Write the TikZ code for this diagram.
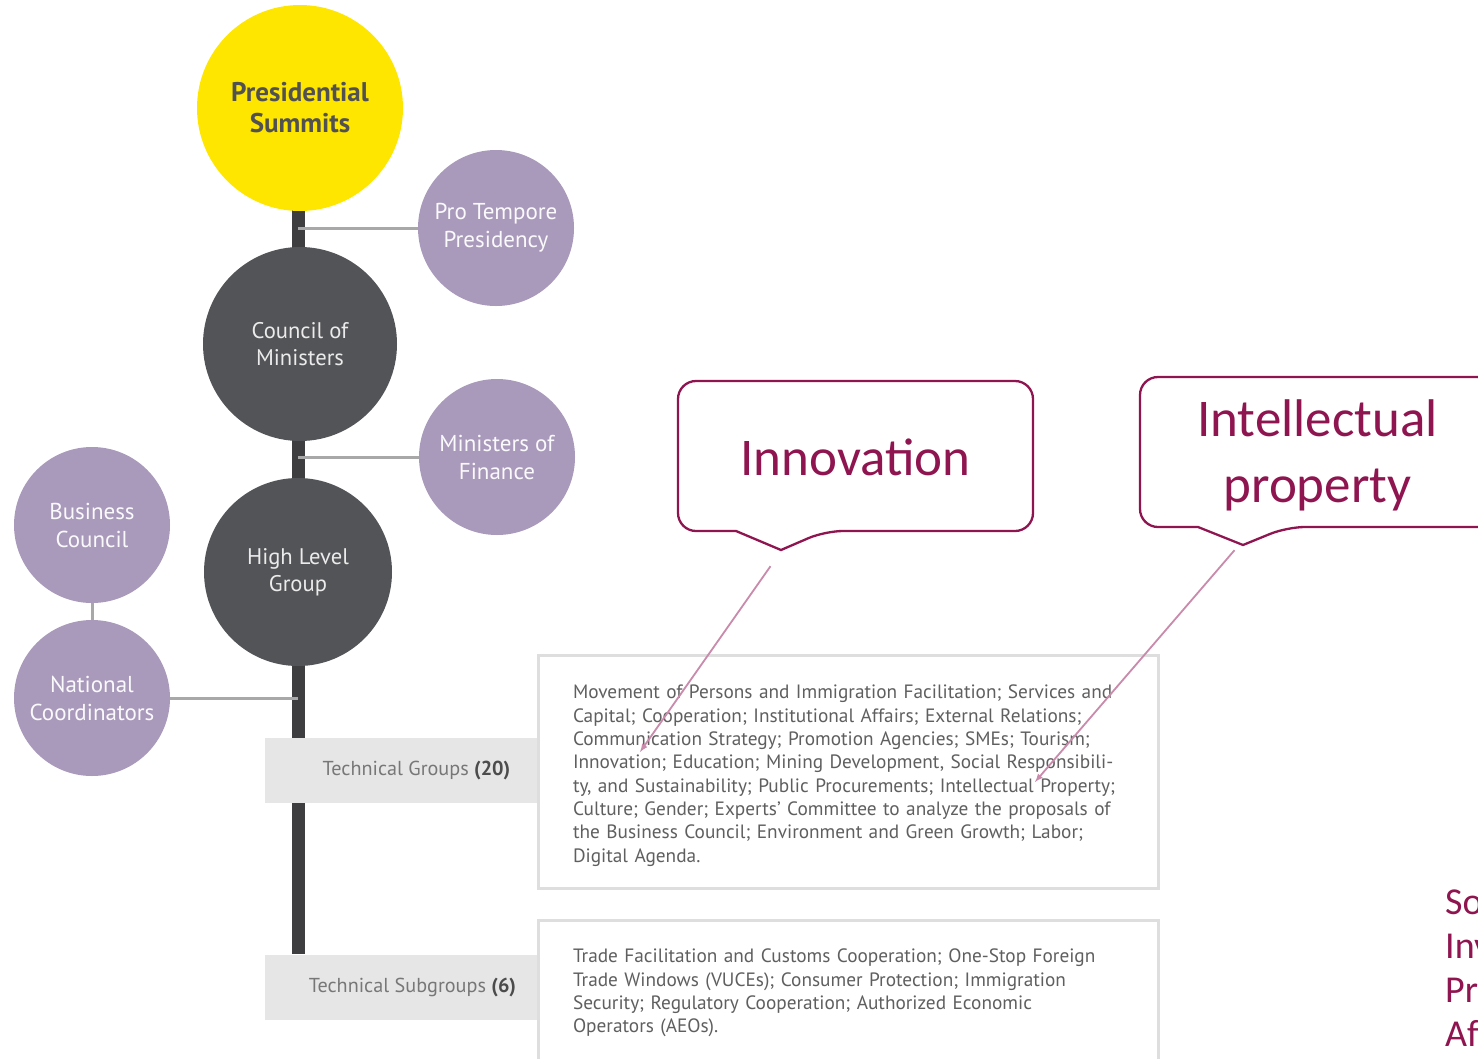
\documentclass[tikz,border=0pt]{standalone}
\usepackage{fontspec}
\setmainfont{PT Sans}
\newfontfamily\calloutfont{Carlito}
\usepackage{tikz}
\usetikzlibrary{
    arrows,
    backgrounds,
    calc
}
\definecolor{summityellow}{HTML}{FFE600}
\definecolor{bodydark}{HTML}{535457}
\definecolor{spinedark}{HTML}{3E3E40}
\definecolor{lilac}{HTML}{A99ABC}
\definecolor{linkgray}{HTML}{A8A8A8}
\definecolor{boxgray}{HTML}{E6E6E6}
\definecolor{framegray}{HTML}{DEDEDE}
\definecolor{textgray}{HTML}{5F5F5F}
\definecolor{calloutred}{HTML}{8F1550}
\definecolor{arrowpink}{HTML}{C98AAB}
\tikzset{
    body/.style={circle, inner sep=0pt, align=center},
    summit/.style={body, fill=summityellow, minimum size=206pt, text=textgray!85!black,
        font=\bfseries\fontsize{27}{31}\selectfont},
    organ/.style={body, fill=bodydark, text=white!92!black, font=\fontsize{22.6}{27}\selectfont},
    side/.style={body, fill=lilac, minimum size=156pt, text=white!94!lilac,
        font=\fontsize{23}{28}\selectfont},
    groupbox/.style={fill=boxgray, minimum width=291pt, minimum height=65pt, text=textgray!85,
        font=\fontsize{20.2}{23}\selectfont},
    listbox/.style={draw=framegray, line width=3pt, fill=white, minimum width=620pt,
        text width=550pt, align=left, text=textgray, font=\fontsize{19.3}{23.3}\selectfont},
    bubble/.style={minimum width=355pt, minimum height=150pt, align=center, text=calloutred,
        font=\calloutfont\fontsize{53}{66}\selectfont},
    bubbleline/.style={draw=calloutred, line width=2.3pt, fill=white},
    spine/.style={draw=spinedark, line width=13pt},
    link/.style={draw=linkgray, line width=3pt},
    pointer/.style={draw=arrowpink, line width=1.8pt, -latex}
}
\begin{document}
\begin{tikzpicture}[x=1pt, y=-1pt]
    \useasboundingbox (0, 0) rectangle (1478, 1058);
    % chart
    \node[summit] (pres) at (300, 108) {Presidential\\Summits};
    \node[side] (pt) at (496, 228) {Pro Tempore\\Presidency};
    \node[organ, minimum size=194pt] (coun) at (300, 344) {Council of\\Ministers};
    \node[side] (mof) at (497, 457) {Ministers of\\Finance};
    \node[organ, minimum size=188pt] (hlg) at (298, 572) {High Level\\Group};
    \node[side] (bc) at (92, 525) {Business\\Council};
    \node[side] (nc) at (92, 698) {National\\Coordinators};
    \node[groupbox] (tg) at (410.5, 770.5) {\hspace{12pt}Technical Groups \textbf{\color{textgray!80!black}(20)}};
    \node[groupbox] (tsub) at (410.5, 987) {\hspace{4pt}Technical Subgroups \textbf{\color{textgray!80!black}(6)}};
    \node[listbox, minimum height=233pt] (tglist) at (848, 771.5) {\rule{0pt}{22pt}Movement of Persons and Immigration Facilitation; Services and\\
        Capital; Cooperation; Institutional Affairs; External Relations;\\
        Communication Strategy; Promotion Agencies; SMEs; Tourism;\\
        Innovation; Education; Mining Development, Social Responsibili-\\
        ty, and Sustainability; Public Procurements; Intellectual Property;\\
        Culture; Gender; Experts' Committee to analyze the proposals of\\
        the Business Council; Environment and Green Growth; Labor;\\
        Digital Agenda.};
    \node[listbox, minimum height=146pt] (tslist) at (848, 993) {Trade Facilitation and Customs Cooperation; One-Stop Foreign\\
        Trade Windows (VUCEs); Consumer Protection; Immigration\\
        Security; Regulatory Cooperation; Authorized Economic\\
        Operators (AEOs).};
    \begin{scope}[on background layer]
        \draw[spine] (hlg |- pres) -- (hlg |- tsub.north);
        \draw[link] (pt) -- (pt -| hlg);
        \draw[link] (mof) -- (mof -| hlg);
        \draw[link] (bc) -- (nc);
        \draw[link] (nc) -- (nc -| hlg);
    \end{scope}
    % callouts
    \draw[bubbleline] (736, 531) [rounded corners=18pt] -- (678, 531) -- (678, 381) -- (1033, 381)
        -- (1033, 531) -- (825, 531) [sharp corners] -- (781, 550) -- cycle;
    \node[bubble] (innov) at (855.5, 457) {Innovation};
    \draw[bubbleline] (1198, 527) [rounded corners=18pt] -- (1140, 527) -- (1140, 377) -- (1495, 377)
        -- (1495, 527) -- (1287, 527) [sharp corners] -- (1243, 545) -- cycle;
    \node[bubble] (ip) at (1317.5, 455) {Intellectual\\property};
    \coordinate (innov-hit) at (640, 752);
    \coordinate (ip-hit) at (1035, 782);
    \draw[pointer] ($(innov.south)+(-85, 34)$) -- (innov-hit);
    \draw[pointer] ($(ip.south)+(-83, 20)$) -- (ip-hit);
    \node[anchor=north west, align=left, text=calloutred, inner sep=0pt,
        font=\calloutfont\fontsize{38}{44}\selectfont] (src) at (1445, 890) {So\\Inv\\Pr\\Af};
\end{tikzpicture}
\end{document}
